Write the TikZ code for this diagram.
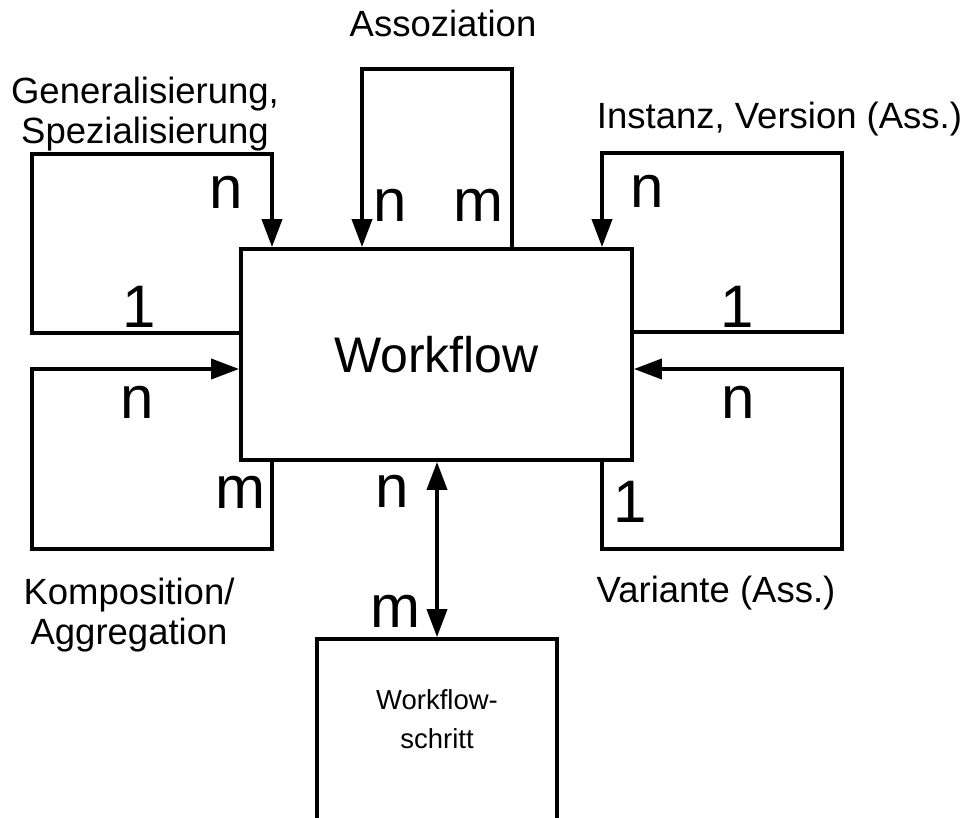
\documentclass[tikz,border=0pt]{standalone}
\usepackage{fontspec}
\setmainfont{Liberation Sans}
\usetikzlibrary{arrows.meta}

\tikzset{
  box/.style={draw, line width=3.8pt, inner sep=0pt},
  link/.style={line width=3.8pt, line join=miter},
  tip/.tip={Triangle[length=28pt, width=20pt]},
  card/.style={anchor=base, inner sep=0pt, font=\fontsize{60}{60}\selectfont},
  caption/.style={inner sep=0pt, font=\fontsize{36.5}{39.5}\selectfont},
}

\begin{document}
\begin{tikzpicture}[x=1pt, y=-1pt]
  \clip (0,0) rectangle (972,818);

  % entity boxes
  \node[box, minimum width=391pt, minimum height=211pt,
        font=\fontsize{50}{50}\selectfont] (wf) at (436.5,354.5) {Workflow};
  \node[box, minimum width=240pt, minimum height=184pt] (ws) at (437,731) {};
  \node[inner sep=0pt, align=center, font=\fontsize{27.5}{39}\selectfont]
    (wst) at (437,719) {Workflow-\\schritt};

  % corner points of the self-relations
  \coordinate (tlb) at (32,333);
  \coordinate (tlt) at (32,154);
  \coordinate (tla) at (272,154);
  \coordinate (asl) at (362,69);
  \coordinate (asr) at (512,69);
  \coordinate (tra) at (602,153);
  \coordinate (trt) at (842,153);
  \coordinate (trb) at (842,332);
  \coordinate (mla) at (32,369);
  \coordinate (mlb) at (32,549);
  \coordinate (mlc) at (272,549);
  \coordinate (mra) at (842,369);
  \coordinate (mrb) at (842,549);
  \coordinate (mrc) at (602,549);

  % generalisation / specialisation
  \draw[link, -tip] (wf.west |- tlb) -- (tlb) -- (tlt) -- (tla) -- (tla |- wf.north);
  % association
  \draw[link, -tip] (asr |- wf.north) -- (asr) -- (asl) -- (asl |- wf.north);
  % instance, version
  \draw[link, -tip] (wf.east |- trb) -- (trb) -- (trt) -- (tra) -- (tra |- wf.north);
  % composition / aggregation
  \draw[link, -tip] (mlc |- wf.south) -- (mlc) -- (mlb) -- (mla) -- (mla -| wf.west);
  % variant
  \draw[link, -tip] (mrc |- wf.south) -- (mrc) -- (mrb) -- (mra) -- (mra -| wf.east);
  % workflow step
  \draw[link, tip-tip] (ws.north |- wf.south) -- (ws.north);

  % relation names
  \node[caption, anchor=north, align=center] (lgen) at (145,77)
    {Generalisierung,\\Spezialisierung};
  \node[caption, anchor=base] (lass) at (443,37) {Assoziation};
  \node[caption, anchor=base] (lins) at (779.5,129) {Instanz, Version (Ass.)};
  \node[caption, anchor=north, align=center] (lkom) at (129,578)
    {Komposition/\\Aggregation};
  \node[caption, anchor=base] (lvar) at (716,602) {Variante (Ass.)};

  % cardinalities
  \node[card] (c1) at (226,209) {n};
  \node[card] (c2) at (139,328) {1};
  \node[card] (c3) at (390,222) {n};
  \node[card] (c4) at (478,222) {m};
  \node[card] (c5) at (647,208) {n};
  \node[card] (c6) at (737,328) {1};
  \node[card] (c7) at (137,418) {n};
  \node[card] (c8) at (240,508) {m};
  \node[card] (c9) at (738,418) {n};
  \node[card] (c10) at (630,522) {1};
  \node[card] (c11) at (392,507) {n};
  \node[card] (c12) at (395,627) {m};
\end{tikzpicture}
\end{document}
